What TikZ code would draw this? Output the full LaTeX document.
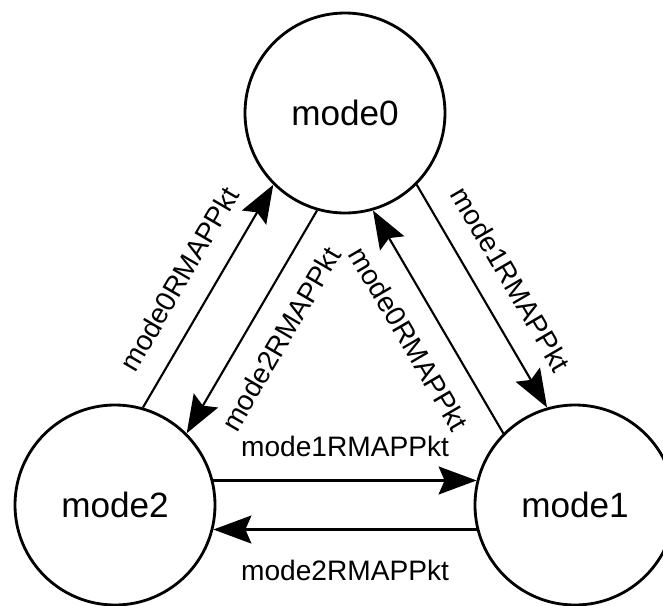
\documentclass[tikz,border=0pt]{standalone}
\usepackage{fontspec}
\setmainfont{Liberation Sans}
\usetikzlibrary{arrows.meta}

\tikzset{
  mode/.style={circle, draw, line width=0.8pt, minimum size=2cm, inner sep=0pt,
    font=\fontsize{10}{12}\selectfont},
  pkt/.style={-{Stealth[length=3.8mm,width=2.8mm,inset=0.6mm]}, line width=0.6pt},
  lbl/.style={sloped, midway, font=\fontsize{8}{10}\selectfont}
}

\begin{document}
\begin{tikzpicture}
\useasboundingbox (0,0) rectangle (6.63,6.05);
\node[mode] (m0) at (3.45,4.92) {mode0};
\node[mode] (m1) at (5.75,1.00) {mode1};
\node[mode] (m2) at (1.15,1.00) {mode2};

% bottom pair
\draw[pkt] (m2.14) -- (m1.166) node[lbl, above=3pt] {mode1RMAPPkt};
\draw[pkt] (m1.194) -- (m2.-14) node[lbl, below=5pt] {mode2RMAPPkt};
% left pair
\draw[pkt] (m2.74) -- (m0.-135) node[lbl, above=3pt] {mode0RMAPPkt};
\draw[pkt] (m0.-106) -- (m2.45) node[lbl, below=3pt] {mode2RMAPPkt};
% right pair
\draw[pkt] (m0.-45) -- (m1.106) node[lbl, above=3pt] {mode1RMAPPkt};
\draw[pkt] (m1.135) -- (m0.-74) node[lbl, below=3pt] {mode0RMAPPkt};
\end{tikzpicture}
\end{document}
